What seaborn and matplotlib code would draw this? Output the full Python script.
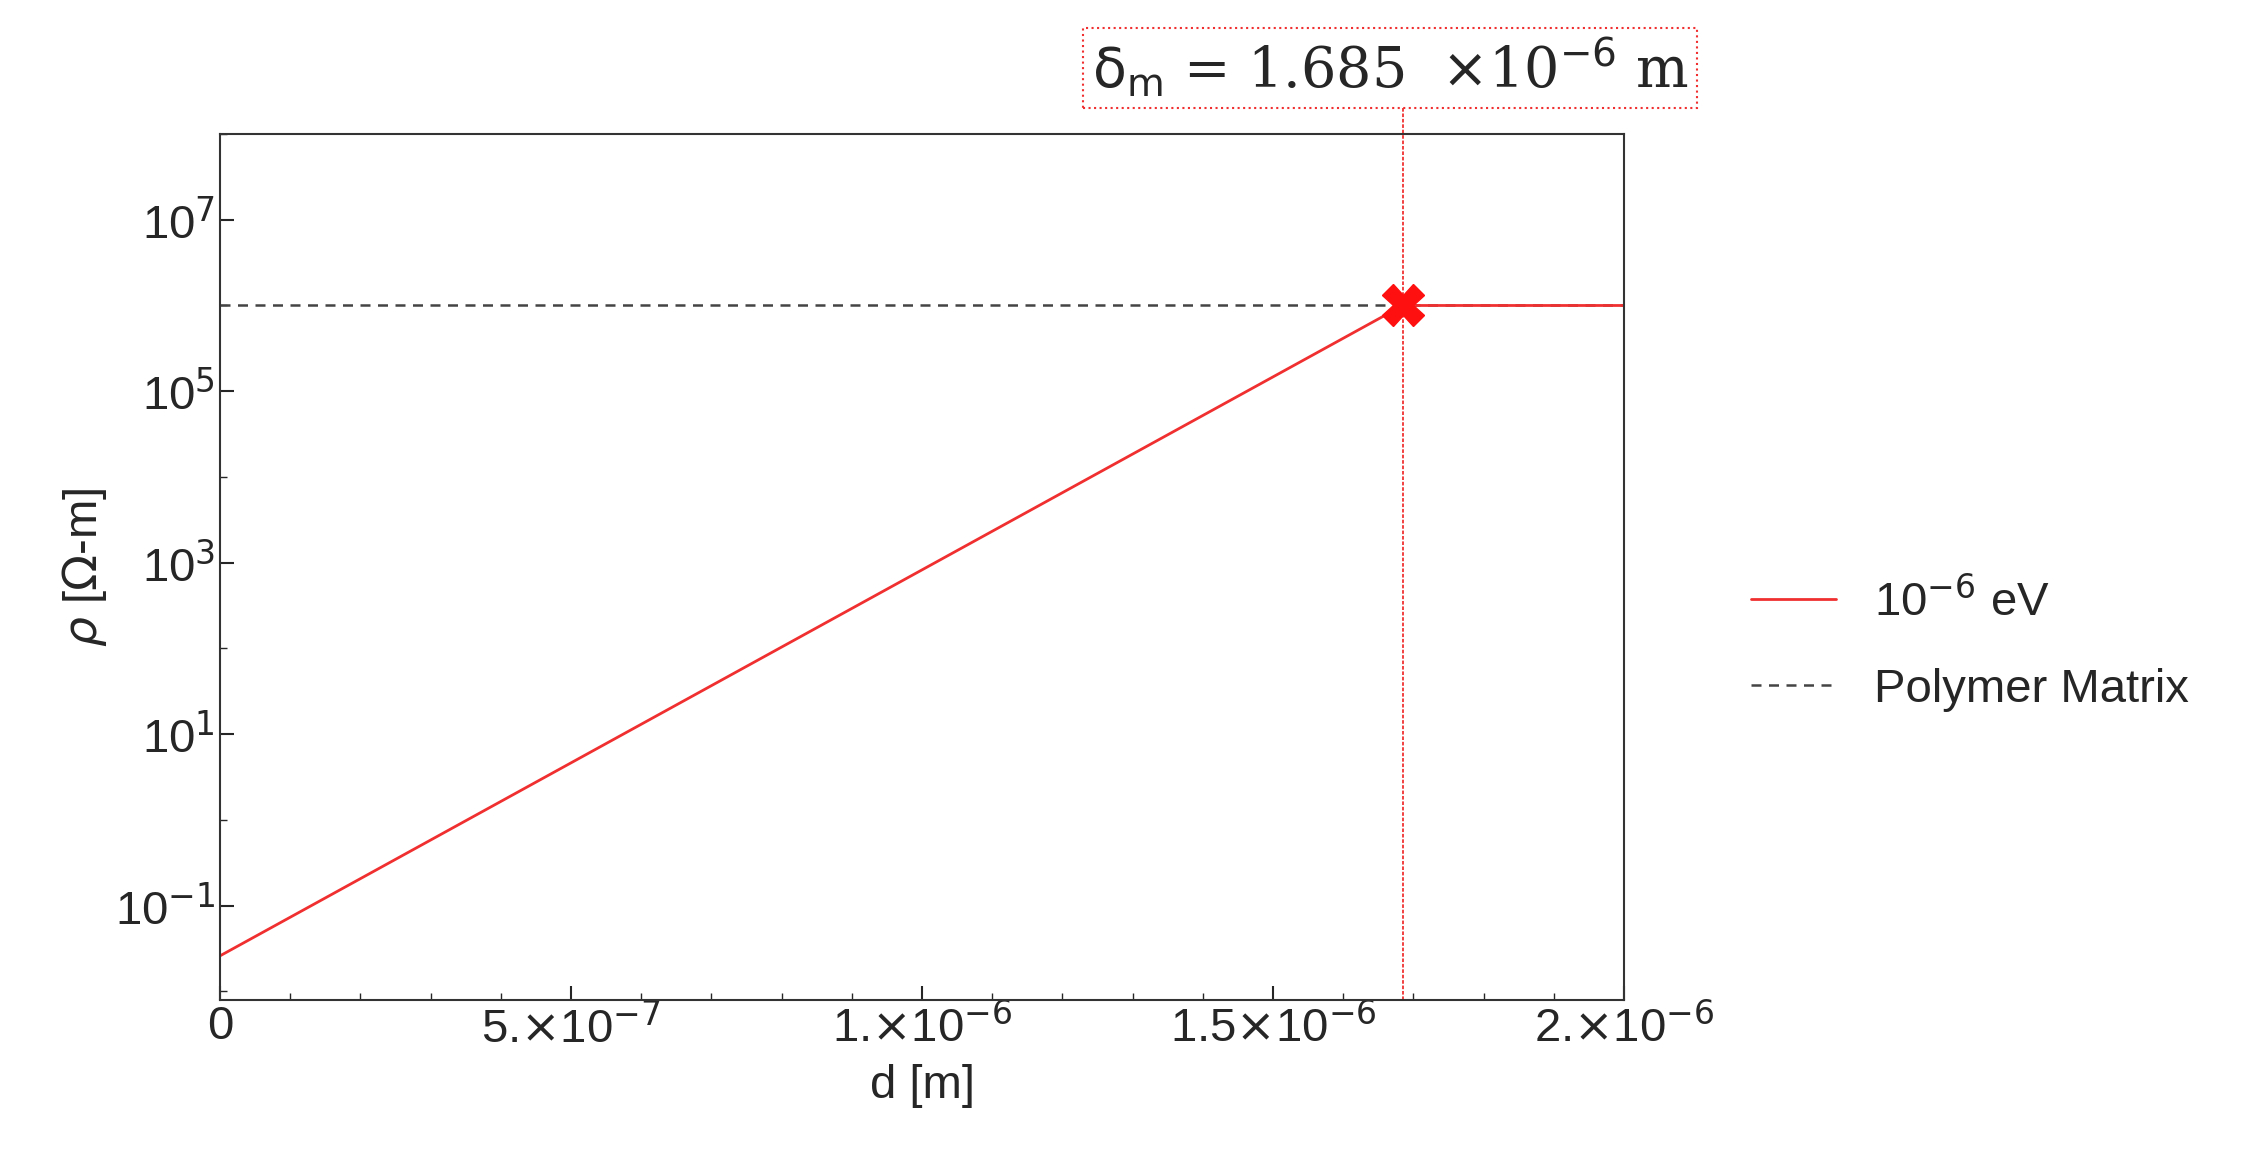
import matplotlib
matplotlib.use("Agg")
import matplotlib.pyplot as plt
import seaborn as sns
import pandas as pd
from matplotlib.ticker import NullFormatter, FixedLocator

sns.set_theme(style="ticks")
plt.rcParams['font.family'] = ['Liberation Sans', 'DejaVu Sans']

d_vals = [0.0, 1.685e-6, 2.0e-6]
rho_vals = [0.026, 1.0e6, 1.0e6]
polymer_rho = 1.0e6
delta_m = 1.685e-6
x_ticks = [0, 5e-7, 1e-6, 1.5e-6, 2e-6]
x_labels = ["0", r"5.$\times$10$^{-7}$", r"1.$\times$10$^{-6}$", r"1.5$\times$10$^{-6}$", r"2.$\times$10$^{-6}$"]

df = pd.DataFrame({"d": d_vals, "rho": rho_vals})

fig = plt.figure(figsize=(22.65, 11.68), dpi=100)
ax = fig.add_axes([220/2265, 1 - 1000/1168, 1404/2265, 866/1168])

sns.lineplot(data=df, x="d", y="rho", ax=ax, color="#f03030", lw=2, label=r"10$^{-6}$ eV")
ax.axhline(polymer_rho, color="#444444", ls=(0, (4, 3)), lw=1.8, label="Polymer Matrix", zorder=1)
ax.axvline(delta_m, color="#f03030", ls=(0, (2, 1)), lw=1.3, ymax=1.035, clip_on=False)
ax.plot([delta_m], [polymer_rho], marker="X", color="#ff1010", ms=30, mec="#ff1010", zorder=5)

ax.set_yscale("log")
ax.set_xlim(0, 2e-6)
ax.set_ylim(10**-2.1, 10**8)
ax.yaxis.set_major_locator(FixedLocator([1e-1, 1e1, 1e3, 1e5, 1e7]))
ax.set_yticklabels([r"10$^{-1}$", r"10$^{1}$", r"10$^{3}$", r"10$^{5}$", r"10$^{7}$"])
ax.yaxis.set_minor_locator(FixedLocator([1e-2, 1, 1e2, 1e4, 1e6, 1e8]))
ax.yaxis.set_minor_formatter(NullFormatter())
ax.set_xticks(x_ticks)
ax.set_xticklabels(x_labels)
ax.xaxis.set_minor_locator(FixedLocator([i * 1e-7 for i in range(21)]))
ax.tick_params(axis="both", labelsize=34, direction="in", length=10, width=1.5)
ax.tick_params(which="minor", direction="in", length=5)
for s in ax.spines.values():
    s.set_linewidth(1.5)
    s.set_color("#333333")
ax.set_xlabel("d [m]", fontsize=34, labelpad=8)
ax.set_ylabel(r"$\rho$ [$\Omega$-m]", fontsize=34)

ax.legend(loc="center left", bbox_to_anchor=(1.06, 0.41), frameon=False, fontsize=34,
          handlelength=1.8, labelspacing=0.9)

fig.text(1390/2265, 1 - 68/1168, r"$\mathrm{\delta_{m}}$ = 1.685  $\times$10$^{-6}$ m",
         fontsize=40, family="DejaVu Serif", ha="center", va="center",
         bbox=dict(boxstyle="square,pad=0.15", fc="white", ec="#f03030", ls=":", lw=1.5))

fig.savefig("out.png", dpi=100)
